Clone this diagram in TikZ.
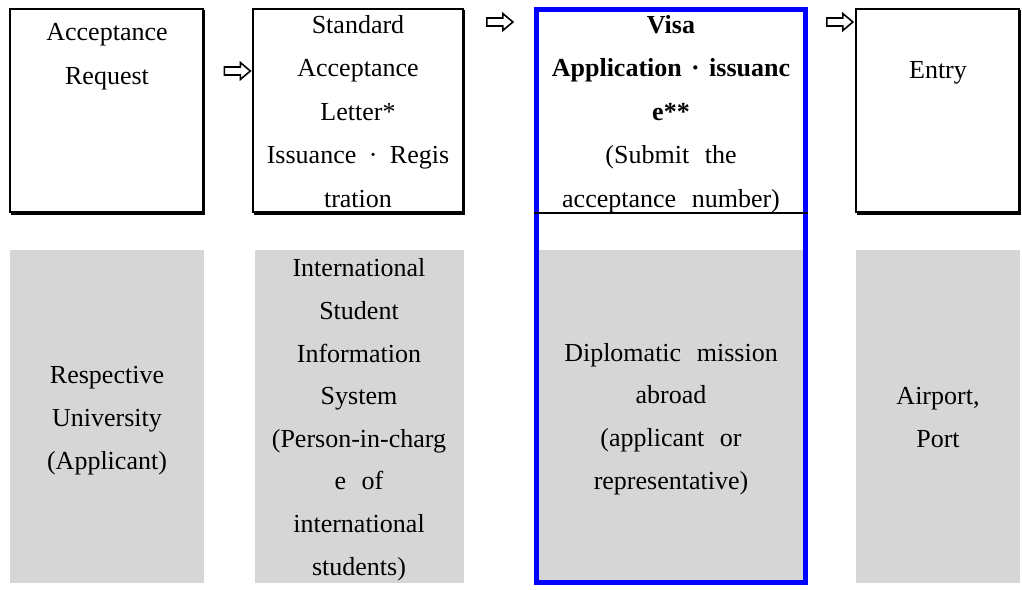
\documentclass[tikz,border=0pt]{standalone}
\usepackage{fontspec}
\setmainfont{Liberation Serif}
\usetikzlibrary{shapes.arrows}
\definecolor{cellgray}{RGB}{214,214,214}
\definecolor{frameblue}{RGB}{0,0,255}
% spaced middle dots used between split words
\newcommand{\mdot}{\hspace{0.48em}·\hspace{0.48em}}
\newcommand{\bdot}{\hspace{0.36em}·\hspace{0.36em}}
% widened word gap
\newcommand{\wgap}{\hspace{0.6em}}

\begin{document}
\begin{tikzpicture}[x=0.5pt,y=-0.5pt,
  toptext/.style={anchor=base, align=center, inner sep=0pt,
    font=\fontsize{13pt}{21.75pt}\selectfont},
  bottext/.style={anchor=base, align=center, inner sep=0pt,
    font=\fontsize{13pt}{21.3pt}\selectfont},
  cell/.style={fill=cellgray},
  frame/.style={draw=black, line width=0.7pt},
  shade/.style={draw=black, line width=0.9pt},
  stepglyph/.style={single arrow, draw=black, fill=white, line width=0.8pt,
    inner sep=0pt, inner ysep=1.6pt, minimum height=13pt,
    single arrow head extend=2.2pt, single arrow tip angle=80}
]
\useasboundingbox (0,0) rectangle (1022,589);

% grey location cells
\fill[cell] (10,250) rectangle (204,583);
\fill[cell] (255,250) rectangle (464,583);
\fill[cell] (539,250) rectangle (804,581);
\fill[cell] (856,250) rectangle (1020,583);

% step boxes with heavier right and bottom edges
\draw[frame] (10,9) rectangle (203,212);
\draw[shade] (204,10) -- (204,214) -- (11,214);
\draw[frame] (253,9) rectangle (463,212);
\draw[shade] (464,10) -- (464,214) -- (254,214);
\draw[frame] (856,9) rectangle (1019,212);
\draw[shade] (1020,10) -- (1020,214) -- (857,214);

% highlighted visa column
\draw[frameblue, line width=2.5pt] (536.5,9.5) rectangle (805.5,582);
\draw[line width=1pt] (534,213) -- (808,213);

% step arrows
\node[stepglyph] (g1) at (235,71) {};
\node[stepglyph] (g2) at (497.5,22) {};
\node[stepglyph] (g3) at (837.5,22) {};

% step labels (anchored at the baseline of their last line)
\node[toptext] (t1) at (107,84) {Acceptance\\Request};
\node[toptext] (t2) at (358,207) {Standard\\Acceptance\\Letter*\\Issuance\mdot Regis\\tration};
\node[toptext] (t3) at (671,207) {\textbf{Visa}\\\textbf{Application\bdot issuanc}\\\textbf{e**}\\(Submit\wgap the\\acceptance\wgap number)};
\node[toptext] (t4) at (938,78) {Entry};

% location labels
\node[bottext] (b1) at (107,469) {Respective\\University\\(Applicant)};
\node[bottext] (b2) at (359,575) {International\\Student\\Information\\System\\(Person-in-charg\\e\wgap of\\international\\students)};
\node[bottext] (b3) at (671,489) {Diplomatic\wgap mission\\abroad\\(applicant\wgap or\\representative)};
\node[bottext] (b4) at (938,447) {Airport,\\Port};
\end{tikzpicture}
\end{document}
